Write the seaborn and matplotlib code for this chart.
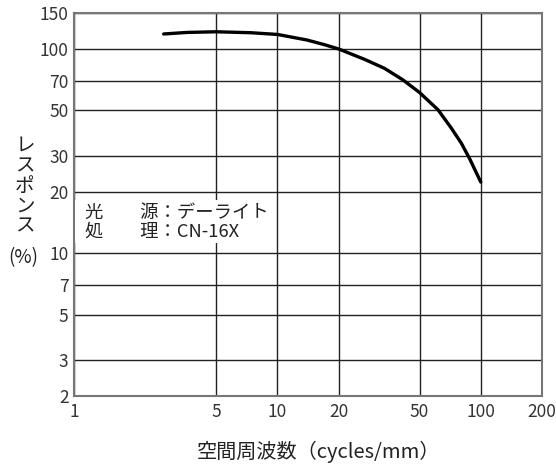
import matplotlib
matplotlib.use("Agg")
import matplotlib.pyplot as plt
from matplotlib.patches import Rectangle
from matplotlib.ticker import NullLocator
import pandas as pd
import seaborn as sns

# MTF curve (spatial frequency vs response)
freq = [2.76, 3.6, 5, 7.4, 10, 14, 17, 20, 26.8, 33.6, 41.4, 50, 61.6,
        71.6, 80.2, 88.2, 100]
response = [118.4, 120.5, 121.4, 120.1, 117.8, 110.6, 105.0, 100, 89.0,
            80.4, 70.6, 61.2, 50.4, 41.0, 34.6, 29.0, 22.3]

x_ticks = [1, 5, 10, 20, 50, 100, 200]
y_ticks = [2, 3, 5, 7, 10, 20, 30, 50, 70, 100, 150]
conditions = "光　　源：デーライト\n処　　理：CN-16X"

sns.set_style("white")
plt.rcParams['font.family'] = ['Noto Sans CJK JP', 'DejaVu Sans']

fig = plt.figure(figsize=(5.56, 4.66), dpi=100)
ax = fig.add_axes([74 / 556, 70 / 466, 468 / 556, 383 / 466])

df = pd.DataFrame({"freq": freq, "response": response})
sns.lineplot(data=df, x="freq", y="response", color="black", lw=2.4,
             ax=ax, zorder=5, solid_joinstyle="round")

ax.set_xscale("log")
ax.set_yscale("log")
ax.set_xlim(1, 200)
ax.set_ylim(2, 150)
ax.set_xticks(x_ticks)
ax.set_xticklabels([str(t) for t in x_ticks])
ax.set_yticks(y_ticks)
ax.set_yticklabels([str(t) for t in y_ticks])
ax.xaxis.set_minor_locator(NullLocator())
ax.yaxis.set_minor_locator(NullLocator())
ax.set_xlabel(None)
ax.set_ylabel(None)

ax.grid(True, color="#222222", lw=1.0)
ax.tick_params(length=0, labelsize=12.5, colors="#333333")
ax.tick_params(axis="x", pad=5)
ax.tick_params(axis="y", pad=4)
for s in ax.spines.values():
    s.set_color("#777777")
    s.set_linewidth(1.5)

# white panel behind the condition notes
ax.add_patch(Rectangle((0, 0.40), 0.415, 0.112, transform=ax.transAxes,
                       facecolor="white", edgecolor="none", zorder=1))
ax.text(0.024, 0.454, conditions, transform=ax.transAxes, ha="left",
        va="center", fontsize=13.2, linespacing=1.08, color="#222222",
        zorder=6)

fig.text(25 / 556, 1 - 186 / 466, "レ\nス\nポ\nン\nス", ha="center",
         va="center", fontsize=14, linespacing=0.95, color="#222222")
fig.text(23 / 556, 1 - 258 / 466, "(%)", ha="center", va="center",
         fontsize=13.5, color="#222222")
fig.text(319 / 556, 1 - 452 / 466, "空間周波数（cycles/mm）", ha="center",
         va="center", fontsize=14.5, color="#222222")

fig.savefig("out.png", dpi=100)
